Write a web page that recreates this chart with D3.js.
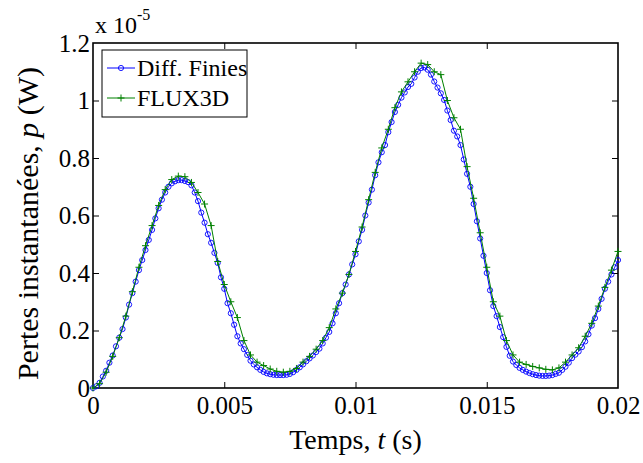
<!DOCTYPE html>
<html><head><meta charset="utf-8">
<script src="https://cdn.jsdelivr.net/npm/d3@7"></script>
<style>body{margin:0;background:#fff}svg{display:block}text{font-family:"Liberation Serif","Times New Roman",Times,serif;fill:#000}</style>
</head><body><div id="chart"></div>
<script>
// Data (values in units of 1e-5 W)
const diffStep = 0.000125; // s, sampling of the finite-difference series
const diffValues = [0.000,0.006,0.018,0.040,0.060,0.088,0.113,0.145,0.175,0.205,0.245,0.290,0.330,0.370,0.410,0.445,0.480,0.515,0.550,0.590,0.625,0.655,0.680,0.700,0.712,0.719,0.723,0.723,0.720,0.716,0.705,0.680,0.650,0.610,0.575,0.535,0.505,0.470,0.435,0.385,0.345,0.295,0.260,0.220,0.180,0.155,0.135,0.115,0.095,0.082,0.072,0.063,0.056,0.051,0.048,0.046,0.045,0.045,0.045,0.046,0.049,0.055,0.063,0.072,0.082,0.093,0.103,0.113,0.125,0.137,0.155,0.175,0.195,0.225,0.260,0.295,0.330,0.360,0.395,0.430,0.465,0.510,0.550,0.600,0.645,0.690,0.740,0.785,0.820,0.845,0.890,0.925,0.960,0.985,1.010,1.028,1.047,1.058,1.080,1.100,1.113,1.115,1.107,1.090,1.066,1.045,1.025,1.002,0.965,0.932,0.895,0.875,0.845,0.795,0.745,0.700,0.640,0.580,0.520,0.460,0.400,0.340,0.285,0.250,0.212,0.177,0.143,0.112,0.092,0.080,0.070,0.063,0.057,0.052,0.048,0.045,0.043,0.042,0.042,0.043,0.045,0.049,0.053,0.063,0.074,0.088,0.104,0.116,0.127,0.142,0.162,0.187,0.217,0.243,0.275,0.310,0.345,0.370,0.395,0.420,0.445];
const fluxStep = 0.00025; // s, sampling of the FLUX3D series
const fluxValues = [0,0.015,0.055,0.11,0.175,0.25,0.335,0.42,0.495,0.565,0.635,0.69,0.725,0.737,0.735,0.715,0.68,0.64,0.565,0.44,0.36,0.30,0.245,0.165,0.115,0.09,0.078,0.066,0.058,0.055,0.058,0.068,0.09,0.11,0.135,0.165,0.21,0.275,0.33,0.395,0.475,0.56,0.655,0.75,0.835,0.9,0.975,1.03,1.065,1.10,1.13,1.125,1.10,1.09,1.0,0.94,0.9,0.77,0.66,0.54,0.42,0.30,0.25,0.165,0.115,0.09,0.082,0.075,0.07,0.065,0.063,0.07,0.09,0.115,0.14,0.18,0.225,0.285,0.35,0.41,0.475];
const xTicks = [0, 0.005, 0.01, 0.015, 0.02];
const xTickLabels = ["0", "0.005", "0.01", "0.015", "0.02"];
const yTicks = [0, 0.2, 0.4, 0.6, 0.8, 1, 1.2];
const yTickLabels = ["0", "0.2", "0.4", "0.6", "0.8", "1", "1.2"];
const seriesNames = ["Diff. Finies", "FLUX3D"];

const W = 643, H = 463;
const m = {left: 93, right: 25, top: 43, bottom: 75};
const svg = d3.select("#chart").append("svg").attr("width", W).attr("height", H);
const x = d3.scaleLinear().domain([0, 0.02]).range([m.left, W - m.right]);
const y = d3.scaleLinear().domain([0, 1.2]).range([H - m.bottom, m.top]);

const diff = diffValues.map((v, i) => ({t: i * diffStep, v}));
const flux = fluxValues.map((v, i) => ({t: i * fluxStep, v}));
const line = d3.line().x(d => x(d.t)).y(d => y(d.v));

const FONT = '"Liberation Serif","Times New Roman",Times,serif';
const tickLen = 6;
const g = svg.append("g");
const xa = g.append("g").attr("transform", `translate(0,${H - m.bottom})`)
  .call(d3.axisBottom(x).tickValues(xTicks).tickFormat((d, i) => xTickLabels[i]).tickSizeInner(-tickLen).tickSizeOuter(0));
const xt = g.append("g").attr("transform", `translate(0,${m.top})`)
  .call(d3.axisTop(x).tickValues(xTicks).tickFormat("").tickSizeInner(-tickLen).tickSizeOuter(0));
const ya = g.append("g").attr("transform", `translate(${m.left},0)`)
  .call(d3.axisLeft(y).tickValues(yTicks).tickFormat((d, i) => yTickLabels[i]).tickSizeInner(-tickLen).tickSizeOuter(0));
const yr = g.append("g").attr("transform", `translate(${W - m.right},0)`)
  .call(d3.axisRight(y).tickValues(yTicks).tickFormat("").tickSizeInner(-tickLen).tickSizeOuter(0));
[xa, xt, ya, yr].forEach(a => {
  a.attr("font-family", FONT);
  a.select(".domain").remove();
  a.selectAll(".tick line").attr("stroke", "#000").attr("stroke-width", 1);
  a.selectAll(".tick text").style("font-family", FONT).style("font-size", "25px").attr("fill", "#000");
});
xa.selectAll(".tick text").attr("dy", null).attr("y", 26);
ya.selectAll(".tick text").attr("x", -3).attr("dy", "0.33em");
[xa, xt].forEach(a => a.selectAll(".tick line").filter((d, i) => i === 0 || i === xTicks.length - 1).remove());
[ya, yr].forEach(a => a.selectAll(".tick line").filter((d, i) => i === 0 || i === yTicks.length - 1).remove());
g.append("rect").attr("x", m.left).attr("y", m.top)
  .attr("width", W - m.left - m.right).attr("height", H - m.top - m.bottom)
  .attr("fill", "none").attr("stroke", "#000").attr("stroke-width", 1.6);

// series
const blue = "#0000ff", green = "#008000";
svg.append("path").datum(diff).attr("d", line).attr("fill", "none").attr("stroke", blue).attr("stroke-width", 1);
svg.append("g").selectAll("circle").data(diff).join("circle")
  .attr("cx", d => x(d.t)).attr("cy", d => y(d.v)).attr("r", 2.6)
  .attr("fill", "none").attr("stroke", blue).attr("stroke-width", 0.9);
svg.append("path").datum(flux).attr("d", line).attr("fill", "none").attr("stroke", green).attr("stroke-width", 1);
const ps = 3.5;
svg.append("g").selectAll("path").data(flux).join("path")
  .attr("d", d => `M${x(d.t) - ps},${y(d.v)}H${x(d.t) + ps}M${x(d.t)},${y(d.v) - ps}V${y(d.v) + ps}`)
  .attr("stroke", green).attr("stroke-width", 1).attr("fill", "none");

// multiplier
const mult = svg.append("text").attr("x", 95).attr("y", 33).style("font-size", "24px");
mult.append("tspan").text("x 10");
mult.append("tspan").attr("dy", -13).style("font-size", "16px").text("-5");

// axis labels
svg.append("text").attr("x", (m.left + W - m.right) / 2).attr("y", 449)
  .attr("text-anchor", "middle").style("font-size", "28px")
  .call(t => { t.append("tspan").text("Temps, "); t.append("tspan").style("font-style", "italic").text("t"); t.append("tspan").text(" (s)"); });
svg.append("text").attr("transform", `translate(38,${(m.top + H - m.bottom) / 2 + 8}) rotate(-90)`)
  .attr("text-anchor", "middle").style("font-size", "30px")
  .call(t => { t.append("tspan").text("Pertes instantanées, "); t.append("tspan").style("font-style", "italic").text("p"); t.append("tspan").text(" (W)"); });

// legend
const lg = svg.append("g");
lg.append("rect").attr("x", 102).attr("y", 50).attr("width", 145).attr("height", 67)
  .attr("fill", "#fff").attr("stroke", "#000").attr("stroke-width", 1);
const ly = [68, 98];
seriesNames.forEach((name, i) => {
  const col = i === 0 ? blue : green;
  lg.append("line").attr("x1", 107).attr("x2", 135).attr("y1", ly[i]).attr("y2", ly[i]).attr("stroke", col).attr("stroke-width", 1);
  if (i === 0) lg.append("circle").attr("cx", 121).attr("cy", ly[i]).attr("r", 2.6).attr("fill", "none").attr("stroke", col).attr("stroke-width", 0.9);
  else lg.append("path").attr("d", `M${121 - ps},${ly[i]}H${121 + ps}M121,${ly[i] - ps}V${ly[i] + ps}`).attr("stroke", col).attr("stroke-width", 1);
  lg.append("text").attr("x", 137).attr("y", ly[i] + 8).style("font-size", "24px").text(name);
});
</script>
</body></html>
